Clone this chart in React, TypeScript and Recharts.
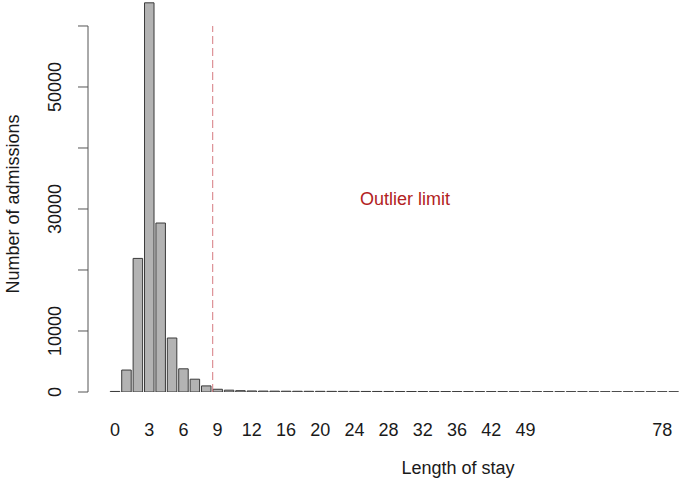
import React from 'react';
import { BarChart, Bar, XAxis, YAxis, ReferenceLine } from 'recharts';

// ---- data ----
const CATEGORIES = [
  0, 1, 2, 3, 4, 5, 6, 7, 8, 9, 10, 11, 12, 13, 14, 16, 17, 18, 20, 21, 22, 24, 25, 26, 28,
  29, 30, 32, 33, 34, 36, 38, 40, 42, 44, 46, 49, 50, 51, 52, 54, 55, 57, 59, 62, 64, 68, 71,
  78, 86,
];
const COUNTS = [
  90, 3600, 21900, 63800, 27700, 8850, 3800, 2100, 1000, 450, 300, 220, 170, 150, 140, 130, 120,
  115, 110, 105, 100, 95, 90, 88, 85, 82, 80, 78, 75, 72, 70, 68, 66, 64, 62, 60, 58, 56, 55, 54,
  52, 50, 48, 47, 46, 45, 44, 43, 42, 40,
];
const X_TICK_INDEX = [0, 3, 6, 9, 12, 15, 18, 21, 24, 27, 30, 33, 36, 48];
const Y_TICKS = [0, 10000, 20000, 30000, 40000, 50000, 60000];
const Y_LABELLED = [0, 10000, 30000, 50000];
const OUTLIER_POSITION = 8.57; // in bar-index units
const OUTLIER_LABEL = 'Outlier limit';
const X_TITLE = 'Length of stay';
const Y_TITLE = 'Number of admissions';

const data = COUNTS.map((c, i) => ({ idx: i, los: CATEGORIES[i], count: c }));

// ---- layout / style ----
const W = 680;
const H = 488;
const Y_AXIS_W = 88;
const X_AXIS_H = 96;
const X_MIN = -2.37;
const X_MAX = 49.56;
const Y_MAX = 64262;
const FONT = '"Liberation Sans", Arial, Helvetica, sans-serif';
const FS = 18;
const TEXT = '#1a1a1a';
const AXIS = '#555555';

const YTick = (props: any) => {
  const { y, payload } = props;
  if (!Y_LABELLED.includes(payload.value)) return <g />;
  const bx = 61;
  return (
    <text
      x={bx}
      y={y}
      transform={`rotate(-90, ${bx}, ${y})`}
      textAnchor="middle"
      fontFamily={FONT}
      fontSize={FS}
      fill={TEXT}
    >
      {payload.value}
    </text>
  );
};

const XTick = (props: any) => {
  const { x, y, payload } = props;
  return (
    <text x={x} y={y + 44} textAnchor="middle" fontFamily={FONT} fontSize={FS} fill={TEXT}>
      {CATEGORIES[payload.value]}
    </text>
  );
};

const overlay = (cx: number, cy: number, rotate: boolean, color: string): React.CSSProperties => ({
  position: 'absolute',
  left: cx,
  top: cy,
  transform: `translate(-50%, -50%)${rotate ? ' rotate(-90deg)' : ''}`,
  fontFamily: FONT,
  fontSize: FS,
  lineHeight: 1,
  whiteSpace: 'nowrap',
  color,
});

export default function App() {
  return (
    <div style={{ position: 'absolute', left: 0, top: 0, width: W, height: H, background: '#fff' }}>
      <BarChart
        width={W}
        height={H}
        data={data}
        margin={{ top: 0, right: 0, bottom: 0, left: 0 }}
        barSize={9.5}
      >
        <XAxis
          dataKey="idx"
          type="number"
          domain={[X_MIN, X_MAX]}
          allowDataOverflow
          ticks={X_TICK_INDEX}
          interval={0}
          height={X_AXIS_H}
          axisLine={false}
          tickLine={false}
          tickSize={0}
          tickMargin={0}
          tick={<XTick />}
        />
        <YAxis
          type="number"
          domain={[0, Y_MAX]}
          allowDataOverflow
          ticks={Y_TICKS}
          interval={0}
          width={Y_AXIS_W}
          axisLine={false}
          tickLine={{ stroke: AXIS, strokeWidth: 1 }}
          tickSize={10}
          tick={<YTick />}
        />
        <ReferenceLine
          segment={[
            { x: X_MIN, y: 0 },
            { x: X_MIN, y: Y_TICKS[Y_TICKS.length - 1] },
          ]}
          stroke={AXIS}
          strokeWidth={1}
          ifOverflow="visible"
        />
        <Bar
          dataKey="count"
          fill="#b3b3b3"
          stroke="#3a3a3a"
          strokeWidth={1}
          isAnimationActive={false}
        />
        <ReferenceLine
          segment={[
            { x: OUTLIER_POSITION, y: 0 },
            { x: OUTLIER_POSITION, y: Y_TICKS[Y_TICKS.length - 1] },
          ]}
          stroke="#d67a80"
          strokeWidth={1}
          strokeDasharray="8 4"
          ifOverflow="visible"
        />
      </BarChart>
      <div style={overlay(405, 199, false, '#b22222')}>{OUTLIER_LABEL}</div>
      <div style={overlay(458, 468, false, TEXT)}>{X_TITLE}</div>
      <div style={overlay(13, 204, true, TEXT)}>{Y_TITLE}</div>
    </div>
  );
}
